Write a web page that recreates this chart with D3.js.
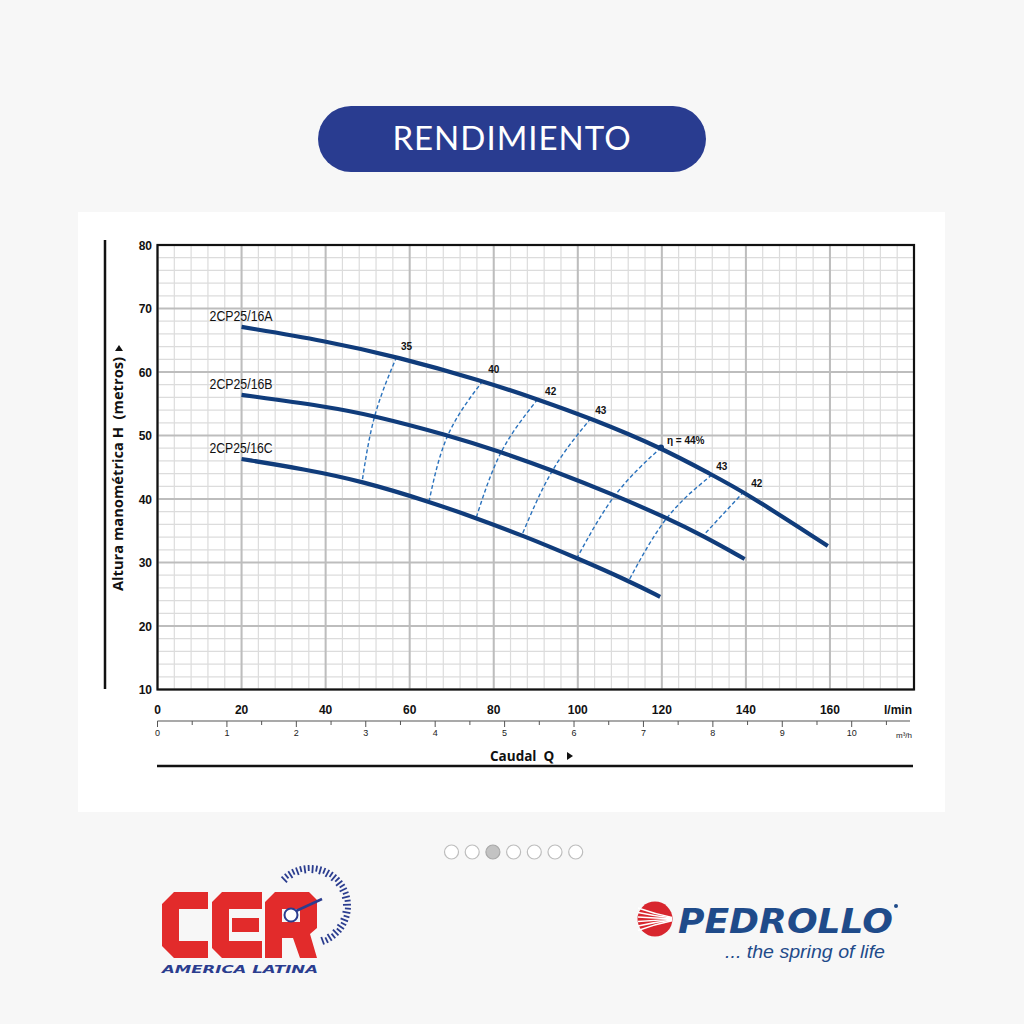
<!DOCTYPE html>
<html><head><meta charset="utf-8">
<script src="https://cdn.jsdelivr.net/npm/d3@7"></script>
<style>html,body{margin:0;padding:0;background:#f7f7f7;}svg{display:block;}</style>
</head><body>
<svg id="c" width="1024" height="1024"></svg>
<script>
// ---- data ----
const flowTicks = [0,20,40,60,80,100,120,140,160];
const headTicks = [10,20,30,40,50,60,70,80];
const m3Ticks = [0,1,2,3,4,5,6,7,8,9,10];
const modelNames = ["2CP25/16A","2CP25/16B","2CP25/16C"];
const curveA = [[20,67.1],[40,64.9],[56.9,62.4],[77.4,58.6],[90.45,55.7],[103.1,52.7],[119.8,48.1],[131.9,43.8],[139.5,41.15],[159.5,32.6]];
const curveB = [[20,56.4],[40,54.6],[51.7,53.1],[69.1,50.05],[81.8,47.4],[94.0,44.5],[108.9,40.6],[121.2,37.0],[129.8,34.2],[139.7,30.55]];
const curveC = [[20,46.3],[35,44.7],[48.7,42.8],[64.6,39.6],[75.8,37.0],[86.7,34.3],[99.8,30.7],[112.1,27.1],[119.6,24.6]];
const effLabels = ["35","40","42","43","η = 44%","43","42"];
const eff35 = [[56.9,62.4],[51.7,53.1],[48.7,42.8]];
const eff40 = [[77.4,58.6],[69.1,50.05],[64.6,39.6]];
const eff42 = [[90.45,55.7],[81.8,47.4],[75.8,37.0]];
const eff43 = [[103.1,52.7],[94.0,44.5],[86.7,34.3]];
const eff44 = [[119.8,48.1],[108.9,40.6],[99.8,30.7]];
const eff43r = [[131.9,43.8],[121.2,37.0],[112.1,27.1]];
const eff42r = [[139.5,41.15],[129.8,34.2]];

const svg = d3.select("#c");
svg.append("rect").attr("width",1024).attr("height",1024).attr("fill","#f7f7f7");

// title pill
svg.append("rect").attr("x",318).attr("y",106).attr("width",388).attr("height",66).attr("rx",33).attr("fill","#293c90");
svg.append("text").attr("x",512).attr("y",150).attr("text-anchor","middle")
  .attr("font-family","Lato, sans-serif").attr("font-size",33).attr("fill","#fff").attr("letter-spacing",1).text("RENDIMIENTO");

// card
svg.append("rect").attr("x",78).attr("y",212).attr("width",867).attr("height",600).attr("fill","#fff");

// scales
const x = d3.scaleLinear().domain([0,180]).range([157.5,914]);
const y = d3.scaleLinear().domain([10,80]).range([689.5,245]);
const xm = d3.scaleLinear().domain([0,10]).range([157.5,851.7]);

const g = svg.append("g");
// grid
const minorX = d3.range(0,181,4), minorY = d3.range(10,81,2);
g.selectAll(".mx").data(minorX).join("line").attr("x1",d=>x(d)).attr("x2",d=>x(d)).attr("y1",y(10)).attr("y2",y(80))
  .attr("stroke","#dcdcdc").attr("stroke-width",1.2);
g.selectAll(".my").data(minorY).join("line").attr("y1",d=>y(d)).attr("y2",d=>y(d)).attr("x1",x(0)).attr("x2",x(180))
  .attr("stroke","#dcdcdc").attr("stroke-width",1.2);
g.selectAll(".Mx").data(d3.range(0,181,20)).join("line").attr("x1",d=>x(d)).attr("x2",d=>x(d)).attr("y1",y(10)).attr("y2",y(80))
  .attr("stroke","#bdbdbd").attr("stroke-width",2);
g.selectAll(".My").data(headTicks).join("line").attr("y1",d=>y(d)).attr("y2",d=>y(d)).attr("x1",x(0)).attr("x2",x(180))
  .attr("stroke","#bdbdbd").attr("stroke-width",2);
// frame
g.append("rect").attr("x",x(0)).attr("y",y(80)).attr("width",x(180)-x(0)).attr("height",y(10)-y(80))
  .attr("fill","none").attr("stroke","#111").attr("stroke-width",2.2);

// y tick labels
g.selectAll(".yl").data(headTicks).join("text").attr("x",152).attr("y",d=>y(d)+4.5).attr("text-anchor","end")
  .attr("font-family","Liberation Sans, Arial, sans-serif").attr("font-weight","bold").attr("font-size",12).attr("fill","#111").text(d=>d);
// x tick labels
g.selectAll(".xl").data(flowTicks).join("text").attr("x",d=>x(d)).attr("y",714).attr("text-anchor","middle")
  .attr("font-family","Liberation Sans, Arial, sans-serif").attr("font-weight","bold").attr("font-size",12).attr("fill","#111").text(d=>d);
g.append("text").attr("x",912).attr("y",714).attr("text-anchor","end")
  .attr("font-family","Liberation Sans, Arial, sans-serif").attr("font-weight","bold").attr("font-size",12).attr("fill","#111").text("l/min");

// m3/h axis
g.append("line").attr("x1",xm(0)).attr("x2",910).attr("y1",721).attr("y2",721).attr("stroke","#555").attr("stroke-width",1.2);
g.selectAll(".mt").data(d3.range(0,10.6,0.5)).join("line").attr("x1",d=>xm(d)).attr("x2",d=>xm(d))
  .attr("y1",721).attr("y2",d=>Number.isInteger(d)?727:725).attr("stroke","#555").attr("stroke-width",1);
g.selectAll(".ml").data(m3Ticks).join("text").attr("x",d=>xm(d)).attr("y",736).attr("text-anchor","middle")
  .attr("font-family","Liberation Sans, Arial, sans-serif").attr("font-size",9).attr("fill","#222").text(d=>d);
g.append("text").attr("x",912).attr("y",738).attr("text-anchor","end")
  .attr("font-family","Liberation Sans, Arial, sans-serif").attr("font-size",8).attr("fill","#222").text("m³/h");

// x title
g.append("text").attr("x",490).attr("y",761).attr("font-family","Open Sans, sans-serif").attr("font-weight","bold")
  .attr("font-size",13.5).attr("fill","#111").attr("xml:space","preserve").text("Caudal  Q");
g.append("path").attr("d","M567,752 L573,756 L567,760 Z").attr("fill","#111");
g.append("line").attr("x1",157).attr("x2",913).attr("y1",766).attr("y2",766).attr("stroke","#111").attr("stroke-width",2.5);

// y title
g.append("line").attr("x1",105).attr("x2",105).attr("y1",240).attr("y2",689).attr("stroke","#111").attr("stroke-width",2.5);
g.append("text").attr("transform","translate(123,591) rotate(-90)").attr("font-family","Open Sans, sans-serif")
  .attr("font-weight","bold").attr("font-size",14.5).attr("fill","#111").attr("xml:space","preserve")
  .attr("textLength",234).attr("lengthAdjust","spacingAndGlyphs").text("Altura manométrica H  (metros)");
g.append("path").attr("d","M115,351 L119,345 L123,351 Z").attr("fill","#111");

// efficiency dashed lines
const effSets = [eff35,eff40,eff42,eff43,eff44,eff43r,eff42r];
const effLine = d3.line().x(d=>x(d[0])).y(d=>y(d[1])).curve(d3.curveNatural);
g.selectAll(".eff").data(effSets).join("path").attr("d",effLine).attr("fill","none")
  .attr("stroke","#2a72bd").attr("stroke-width",1.4).attr("stroke-dasharray","4,2.5");

// pump curves
const pumpLine = d3.line().x(d=>x(d[0])).y(d=>y(d[1])).curve(d3.curveBasis);
const curves = [curveA,curveB,curveC];
g.selectAll(".pc").data(curves).join("path").attr("d",pumpLine).attr("fill","none")
  .attr("stroke","#103c7b").attr("stroke-width",4.2);
// best efficiency dot
g.append("circle").attr("cx",x(eff44[0][0])).attr("cy",y(eff44[0][1])).attr("r",3).attr("fill","#103c7b");

// model labels
g.selectAll(".mn").data(curves).join("text").attr("x",d=>x(d[0][0])-32).attr("y",d=>y(d[0][1])-6)
  .attr("font-family","Liberation Sans Narrow, Arial Narrow, Liberation Sans, sans-serif").attr("font-size",14).attr("fill","#111")
  .attr("textLength",63).attr("lengthAdjust","spacingAndGlyphs")
  .text((d,i)=>modelNames[i]);

// efficiency labels
const effOffsets = [[10,-10],[11,-11],[13,-8],[10,-8],[6,-7],[10,-8],[13,-8]];
g.selectAll(".el").data(effSets).join("text")
  .attr("x",(d,i)=>x(d[0][0])+effOffsets[i][0]).attr("y",(d,i)=>y(d[0][1])+effOffsets[i][1]+3.5)
  .attr("text-anchor",(d,i)=>i===4?"start":"middle")
  .attr("font-family","Liberation Sans, Arial, sans-serif").attr("font-weight","bold").attr("font-size",10).attr("fill","#111")
  .text((d,i)=>effLabels[i]);

// pagination dots
const dots = d3.range(7);
svg.selectAll(".dot").data(dots).join("circle").attr("cx",d=>451.5+d*20.7).attr("cy",852).attr("r",7)
  .attr("fill",d=>d===2?"#c3c3c3":"#fff").attr("stroke",d=>d===2?"#a9a9a9":"#bdbdbd").attr("stroke-width",1.2);

// CER logo
const lg = svg.append("g");
const red = "#e22b2b";
const x0=162,y0=892,h=66,t=17;
lg.append("path").attr("fill",red).attr("d",`M${x0+12},${y0} L${x0+46},${y0} L${x0+46},${y0+t} L${x0+t},${y0+t} L${x0+t},${y0+h-t} L${x0+46},${y0+h-t} L${x0+46},${y0+h} L${x0+12},${y0+h} L${x0},${y0+h-12} L${x0},${y0+12} Z`);
const ex=212;
lg.append("path").attr("fill",red).attr("d",`M${ex+10},${y0} L${ex+50},${y0} L${ex+50},${y0+t} L${ex+t},${y0+t} L${ex+t},${y0+h-t} L${ex+50},${y0+h-t} L${ex+50},${y0+h} L${ex+10},${y0+h} L${ex},${y0+h-10} L${ex},${y0+10} Z`);
lg.append("rect").attr("x",ex+t+3).attr("y",y0+26).attr("width",27).attr("height",14).attr("fill",red);
const rx=265,w=52;
lg.append("path").attr("fill",red).attr("fill-rule","evenodd").attr("d",
  `M${rx},${y0+h} L${rx},${y0+10} L${rx+10},${y0} L${rx+w-8},${y0} L${rx+w},${y0+8} L${rx+w},${y0+36} L${rx+w-7},${y0+42} L${rx+w},${y0+h} L${rx+w-17},${y0+h} L${rx+w-24},${y0+46} L${rx+t},${y0+46} L${rx+t},${y0+h} Z `+
  `M${rx+t},${y0+t} L${rx+w-t},${y0+t} L${rx+w-t},${y0+30} L${rx+t},${y0+30} Z`);
const blue="#2b3d8f";
const cxD=310, cyD=906;
const tickA = d3.range(-44,164,6);
lg.selectAll(".tk").data(tickA).join("line")
  .attr("x1",d=>cxD+41*Math.sin(d*Math.PI/180)).attr("y1",d=>cyD-41*Math.cos(d*Math.PI/180))
  .attr("x2",(d,i)=>cxD+(i%2?35:33)*Math.sin(d*Math.PI/180)).attr("y2",(d,i)=>cyD-(i%2?35:33)*Math.cos(d*Math.PI/180))
  .attr("stroke",blue).attr("stroke-width",1.8);
lg.append("line").attr("x1",296).attr("y1",911).attr("x2",322).attr("y2",899).attr("stroke",blue).attr("stroke-width",2.5);
lg.append("circle").attr("cx",291).attr("cy",915).attr("r",6.5).attr("fill","#fff").attr("stroke",blue).attr("stroke-width",2);
lg.append("text").attr("x",162).attr("y",973).attr("font-family","DejaVu Sans, sans-serif").attr("font-style","italic")
  .attr("font-weight","bold").attr("font-size",10).attr("fill",blue).attr("textLength",156).attr("lengthAdjust","spacingAndGlyphs").text("AMERICA LATINA");

// Pedrollo logo
const pg = svg.append("g");
pg.append("circle").attr("cx",655).attr("cy",919).attr("r",17.5).attr("fill","#d8262e");
[-11,-6.5,-2,2.5,7,11.5].forEach((dy,i)=>{
  pg.append("path").attr("d",`M${638},${919+dy} Q${655},${919+dy*0.45} ${672},${919+dy*0.15}`)
    .attr("fill","none").attr("stroke","#fff").attr("stroke-width",1.4);
});
pg.append("text").attr("x",678).attr("y",933).attr("font-family","DejaVu Sans, sans-serif").attr("font-style","italic")
  .attr("font-weight","bold").attr("font-size",34).attr("fill","#1f4b8a").attr("textLength",215).attr("lengthAdjust","spacingAndGlyphs").text("PEDROLLO");
pg.append("circle").attr("cx",896).attr("cy",906).attr("r",2).attr("fill","#1f4b8a");
pg.append("text").attr("x",725).attr("y",958).attr("font-family","Liberation Sans, Arial, sans-serif").attr("font-style","italic")
  .attr("font-size",18).attr("fill","#1f4b8a").attr("textLength",160).attr("lengthAdjust","spacingAndGlyphs").text("... the spring of life");
</script>
</body></html>
